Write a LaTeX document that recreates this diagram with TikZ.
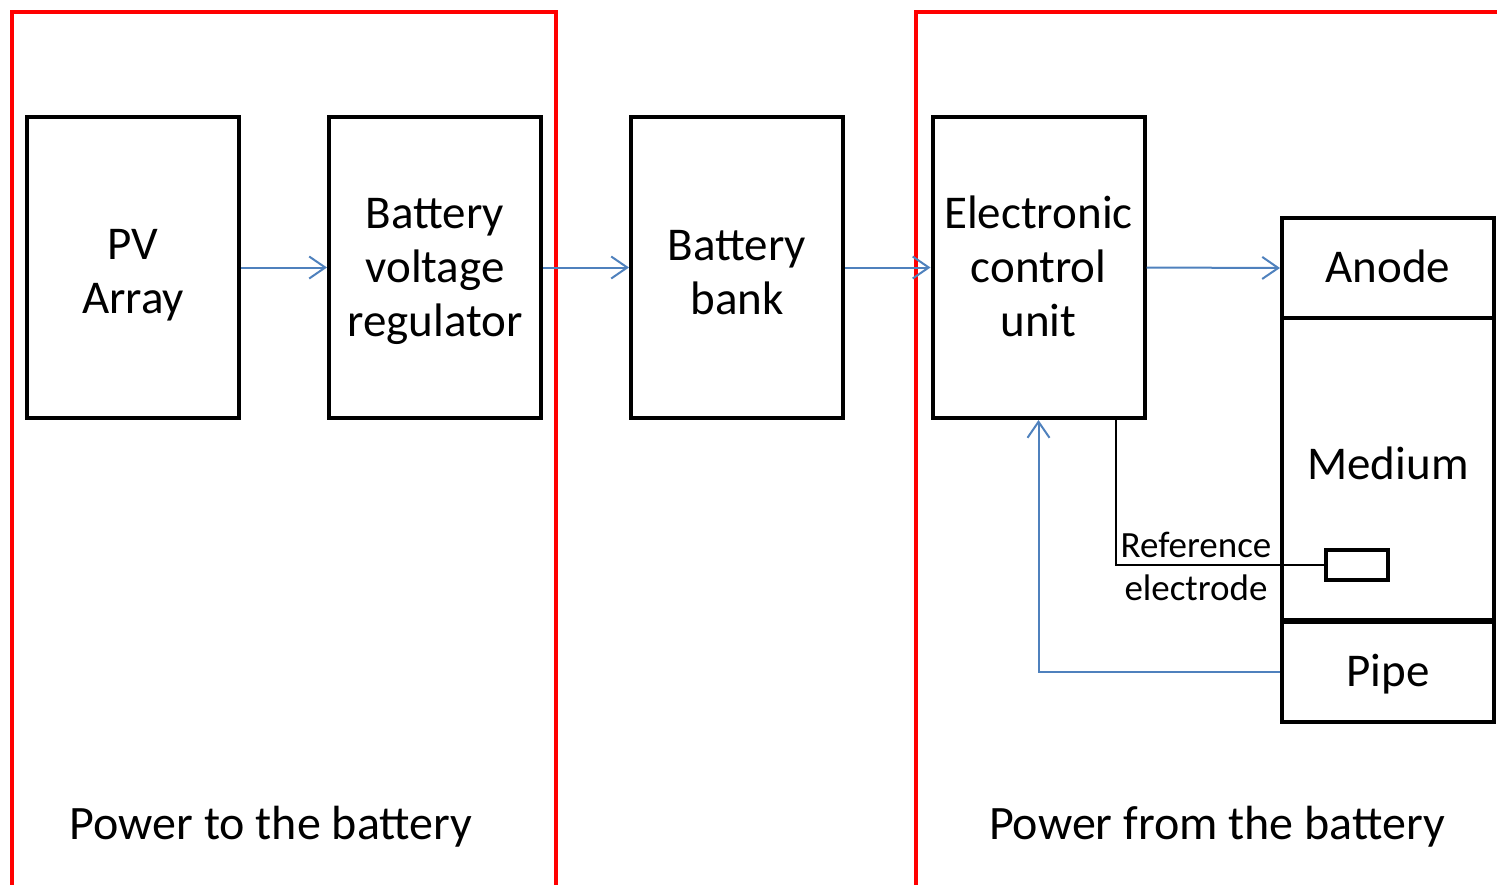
\documentclass[tikz,border=0pt]{standalone}
\usepackage{fontspec}
\setmainfont{Carlito}
\usetikzlibrary{arrows.meta}
\definecolor{arrowblue}{HTML}{4F81BD}
\definecolor{framered}{HTML}{FF0000}
\tikzset{
  blockbox/.style={draw=black, line width=4pt, minimum width=212pt, inner sep=0pt},
  blocktext/.style={inner sep=0pt, align=center, font=\fontsize{47}{54}\selectfont},
  flow/.style={draw=arrowblue, line width=2pt, -{Straight Barb[length=16pt,width=22pt,line width=2pt]}},
  frame/.style={draw=framered, line width=4pt},
  wire/.style={draw=black, line width=1.5pt},
  biglabel/.style={font=\fontsize{48}{54}\selectfont},
  smalllabel/.style={font=\fontsize{37}{43}\selectfont, align=center}
}
\begin{document}
\begin{tikzpicture}[x=1pt,y=-1pt]
\useasboundingbox (0,0) rectangle (1497,884);
% blocks
\node[blockbox, minimum height=301pt] (pv) at (133,267.5) {};
\node[blockbox, minimum height=301pt] (reg) at (435,267.5) {};
\node[blockbox, minimum height=301pt] (bank) at (737,267.5) {};
\node[blockbox, minimum height=301pt] (ecu) at (1038.5,267.5) {};
\node[blockbox, minimum height=100pt] (anode) at (1388,268) {};
\node[blockbox, minimum height=302pt] (medium) at (1388,469) {};
\node[blockbox, minimum height=100pt] (pipe) at (1388,672) {};
\node[draw=black, line width=4pt, minimum width=62pt, minimum height=30pt, inner sep=0pt] (electrode) at (1357,565) {};
% block texts
\node[blocktext] (pvtext) at (133,275) {PV\\Array};
\node[blocktext] (regtext) at (435,271.5) {Battery\\voltage\\regulator};
\node[blocktext] (banktext) at (737,272.5) {Battery\\bank};
\node[blocktext] (ecutext) at (1038.5,266.5) {Electronic\\control\\unit};
\node[blocktext] (anodetext) at (1388,266) {Anode};
\node[blocktext] (mediumtext) at (1388,463) {Medium};
\node[blocktext] (pipetext) at (1388,674) {Pipe};
% frames
\draw[frame] (12,886) -- (12,12) -- (556,12) -- (556,886);
\draw[frame] (916,886) -- (916,12) -- (1499,12);
% arrows
\draw[flow] (pv.east) -- (reg.west);
\draw[flow] (reg.east) -- (bank.west);
\draw[flow] (bank.east) -- (ecu.west);
\draw[flow] (ecu.east) -- (anode.west);
\draw[flow] (pipe.west) -| (ecu.south);
% reference wire
\coordinate (tap) at (1116,418);
\draw[wire] (tap) |- (electrode.west);
\node[smalllabel] (reflabel) at (1196,566) {Reference\\electrode};
% frame labels
\node[biglabel] (lefttitle) at (271,827) {Power to the battery};
\node[biglabel] (righttitle) at (1217,827) {Power from the battery};
\end{tikzpicture}
\end{document}
